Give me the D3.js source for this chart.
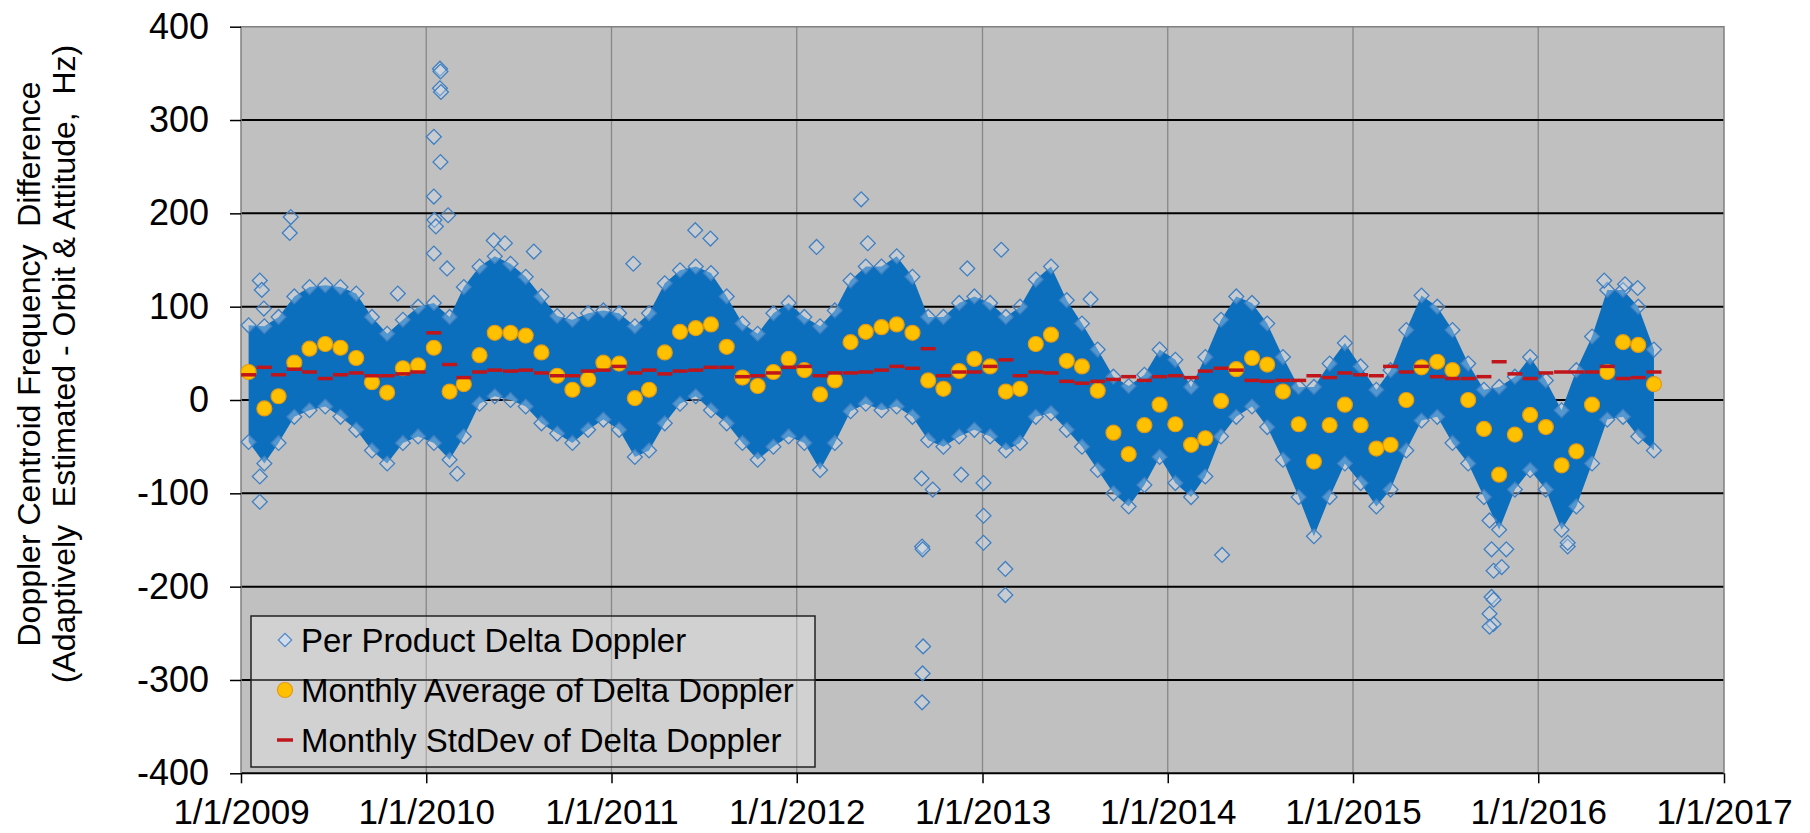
<!DOCTYPE html>
<html>
<head>
<meta charset="utf-8">
<script src="https://cdn.jsdelivr.net/npm/d3@7"></script>
<style>
  body { margin: 0; background: #fff; }
  text { font-family: Arial, "Liberation Sans", sans-serif; fill: #000; }
</style>
</head>
<body>
<svg id="chart" width="1810" height="833"></svg>
<script>
// monthly values, index 0 = Jan 2009 ... 91 = Aug 2016
const monthlyAvg = [30, -9, 4, 40, 55, 60, 56, 45, 19, 8, 34, 37,
  56, 9, 17, 48, 72, 72, 69, 51, 26, 11, 22, 40,
  39, 2, 11, 51, 73, 77, 81, 57, 24, 15, 30, 44,
  32, 6, 21, 62, 73, 78, 81, 72, 21, 12, 31, 44,
  36, 9, 12, 60, 70, 42, 36, 10, -35, -58, -27, -5,
  -26, -48, -41, -1, 33, 45, 38, 9, -26, -66, -27, -5,
  -27, -52, -48, 0, 35, 41, 32, 0, -31, -80, -37, -16,
  -29, -70, -55, -5, 30, 62, 59, 17];

const monthlyStd = [27, 35, 27, 33, 30, 23, 27, 29, 26, 26, 28, 30,
  72, 38, 24, 30, 32, 31, 32, 29, 26, 26, 31, 32,
  36, 29, 32, 28, 31, 32, 35, 35, 25, 26, 29, 35,
  36, 26, 29, 29, 30, 32, 36, 34, 55, 26, 30, 30,
  36, 43, 26, 30, 29, 20, 18, 20, 22, 25, 21, 25,
  26, 24, 31, 34, 32, 21, 20, 21, 21, 26, 24, 29,
  27, 26, 36, 30, 36, 25, 23, 23, 25, 41, 28, 23,
  29, 30, 30, 30, 36, 23, 24, 30];

// edges of the dense cloud of per-product points, per month
const bandUpper = [80, 79, 89, 111, 121, 123, 121, 114, 89, 71, 86, 100,
  104, 89, 121, 143, 154, 146, 132, 111, 90, 86, 93, 96,
  93, 79, 93, 125, 139, 143, 136, 111, 82, 71, 93, 104,
  89, 79, 96, 128, 143, 143, 154, 132, 89, 89, 104, 111,
  104, 89, 100, 129, 143, 107, 82, 54, 25, 15, 27, 54,
  43, 14, 46, 86, 111, 104, 82, 46, 14, 14, 39, 61,
  36, 11, 32, 75, 112, 100, 75, 39, 11, 14, 25, 46,
  21, -11, 32, 68, 118, 118, 100, 54];

const bandLower = [-45, -68, -46, -18, -11, -7, -18, -32, -54, -68, -46, -39,
  -46, -64, -39, -4, 4, 0, -7, -25, -36, -46, -32, -21,
  -32, -61, -54, -25, -4, 4, -11, -25, -46, -64, -50, -39,
  -46, -75, -46, -12, -4, -11, -7, -18, -43, -50, -39, -32,
  -39, -54, -46, -18, -14, -32, -50, -75, -100, -114, -91, -61,
  -89, -104, -82, -39, -18, -7, -29, -64, -104, -146, -104, -68,
  -89, -114, -96, -54, -22, -18, -46, -68, -104, -139, -96, -75,
  -96, -139, -114, -68, -21, -18, -39, -54];

// isolated per-product points outside the dense cloud
const outliers = [
  ['2009-02-07', 128], ['2009-02-11', 118], ['2009-02-15', 98],
  ['2009-04-09', 196], ['2009-04-07', 179], ['2009-02-07', -82], ['2009-02-07', -109],
  ['2009-11-06', 114], ['2010-01-16', 282], ['2010-01-28', 355], ['2010-01-29', 352],
  ['2010-01-28', 334], ['2010-01-30', 330], ['2010-01-29', 255], ['2010-01-16', 218],
  ['2010-01-17', 193], ['2010-01-20', 186], ['2010-02-13', 198], ['2010-01-16', 157],
  ['2010-02-11', 141], ['2010-05-14', 171], ['2010-06-05', 168], ['2010-08-01', 159],
  ['2010-03-03', -79], ['2011-02-13', 146], ['2011-06-15', 182], ['2011-07-15', 173],
  ['2012-02-09', 164], ['2012-05-07', 215], ['2012-05-20', 168], ['2012-12-02', 141],
  ['2013-02-07', 161], ['2013-08-02', 108],
  ['2012-09-04', -157], ['2012-09-05', -160], ['2012-09-06', -264], ['2012-09-05', -293],
  ['2012-09-04', -324], ['2012-09-03', -84], ['2012-09-25', -96], ['2012-11-20', -80],
  ['2013-01-03', -89], ['2013-01-03', -124], ['2013-01-03', -153],
  ['2013-02-15', -181], ['2013-02-15', -209], ['2014-04-18', -166],
  ['2015-09-27', -129], ['2015-10-01', -160], ['2015-10-30', -160], ['2015-10-05', -183],
  ['2015-10-21', -179], ['2015-10-01', -211], ['2015-10-05', -214], ['2015-09-27', -229],
  ['2015-10-05', -240], ['2015-09-27', -243], ['2016-02-28', -157], ['2016-02-28', -153],
  ['2016-05-10', 128], ['2016-06-20', 124], ['2016-07-15', 120]
];

const yTicks = [400, 300, 200, 100, 0, -100, -200, -300, -400];
const xTickYears = [2009, 2010, 2011, 2012, 2013, 2014, 2015, 2016, 2017];
const legendLabels = ['Per Product Delta Doppler', 'Monthly Average of Delta Doppler', 'Monthly StdDev of Delta Doppler'];
const titleLines = ['Doppler Centroid Frequency  Difference', '(Adaptively  Estimated - Orbit & Attitude,  Hz)'];

const svg = d3.select('#chart');
const plot = { left: 241, right: 1724, top: 26.7, bottom: 773.3 };

const x = d3.scaleTime()
  .domain([new Date(2009, 0, 1), new Date(2017, 0, 1)])
  .range([plot.left, plot.right]);
const y = d3.scaleLinear()
  .domain([-400, 400])
  .range([plot.bottom, plot.top]);

const monthDate = i => new Date(2009, i, 16);
const months = monthlyAvg.map((v, i) => i);

// background
svg.append('rect')
  .attr('x', plot.left).attr('y', plot.top)
  .attr('width', plot.right - plot.left).attr('height', plot.bottom - plot.top)
  .attr('fill', '#c0c0c0');

// vertical grid
svg.append('g').selectAll('line')
  .data(xTickYears.slice(1, -1))
  .join('line')
  .attr('x1', d => x(new Date(d, 0, 1))).attr('x2', d => x(new Date(d, 0, 1)))
  .attr('y1', plot.top).attr('y2', plot.bottom)
  .attr('stroke', '#878787').attr('stroke-width', 1.3);

// horizontal grid
svg.append('g').selectAll('line')
  .data(yTicks.filter(d => d < 400))
  .join('line')
  .attr('x1', plot.left).attr('x2', plot.right)
  .attr('y1', d => y(d)).attr('y2', d => y(d))
  .attr('stroke', '#000').attr('stroke-width', 2);

// frame top / right / left
svg.append('path')
  .attr('d', `M${plot.left},${plot.bottom}V${plot.top}H${plot.right}V${plot.bottom}`)
  .attr('fill', 'none').attr('stroke', '#808080').attr('stroke-width', 1.5);

// dense cloud of per-product points
const area = d3.area()
  .x(i => x(monthDate(i)))
  .y0(i => y(bandLower[i]))
  .y1(i => y(bandUpper[i]));

svg.append('path')
  .datum(months)
  .attr('d', area)
  .attr('fill', '#0b6fbe');

const diamond = d3.symbol().type(d3.symbolSquare).size(110);
const diamondStyle = sel => sel
  .attr('d', diamond)
  .attr('fill', 'rgba(214,226,240,0.35)')
  .attr('stroke', '#3f7fc1')
  .attr('stroke-width', 1.3);

const edgePts = months.map(i => [monthDate(i), bandUpper[i]])
  .concat(months.map(i => [monthDate(i), bandLower[i]]));

svg.append('g').selectAll('path')
  .data(edgePts.concat(outliers.map(d => [new Date(d[0]), d[1]])))
  .join('path')
  .attr('transform', d => `translate(${x(d[0])},${y(d[1])}) rotate(45)`)
  .call(diamondStyle);

// monthly averages
svg.append('g').selectAll('circle')
  .data(months)
  .join('circle')
  .attr('cx', i => x(monthDate(i)))
  .attr('cy', i => y(monthlyAvg[i]))
  .attr('r', 7.5)
  .attr('fill', '#ffc000')
  .attr('stroke', '#e39a12')
  .attr('stroke-width', 1.2);

// monthly std dev dashes
svg.append('g').selectAll('line')
  .data(months)
  .join('line')
  .attr('x1', i => x(monthDate(i)) - 7.5)
  .attr('x2', i => x(monthDate(i)) + 7.5)
  .attr('y1', i => y(monthlyStd[i]))
  .attr('y2', i => y(monthlyStd[i]))
  .attr('stroke', '#c0151b')
  .attr('stroke-width', 3.5);

// axes
const yAxis = svg.append('g')
  .attr('transform', `translate(${plot.left},0)`)
  .call(d3.axisLeft(y).tickValues(yTicks).tickSize(11).tickPadding(21).tickFormat(d => String(d)));
yAxis.select('.domain').remove();
yAxis.selectAll('line').attr('stroke', '#000').attr('stroke-width', 1.5);
yAxis.selectAll('text').style('font-size', '36px').attr('fill', '#000');

const xAxis = svg.append('g')
  .attr('transform', `translate(0,${plot.bottom})`)
  .call(d3.axisBottom(x)
    .tickValues(xTickYears.map(yr => new Date(yr, 0, 1)))
    .tickSize(10).tickPadding(16)
    .tickFormat(d => `1/1/${d.getFullYear()}`));
xAxis.select('.domain').remove();
xAxis.selectAll('line').attr('stroke', '#000').attr('stroke-width', 1.5);
xAxis.selectAll('text').style('font-size', '35px').attr('fill', '#000');

// y title
svg.append('g').selectAll('text')
  .data(titleLines)
  .join('text')
  .attr('transform', (d, i) => `translate(${40 + i * 35},364) rotate(-90)`)
  .attr('text-anchor', 'middle')
  .style('font-size', '32px')
  .style('white-space', 'pre')
  .text(d => d);

// legend
const lg = svg.append('g');
lg.append('rect')
  .attr('x', 251).attr('y', 616).attr('width', 564).attr('height', 151)
  .attr('fill', 'rgba(255,255,255,0.28)')
  .attr('stroke', '#222').attr('stroke-width', 1.5);

const rows = lg.selectAll('g.row')
  .data(legendLabels)
  .join('g')
  .attr('class', 'row')
  .attr('transform', (d, i) => `translate(285,${640 + i * 50})`);

rows.append('text')
  .attr('x', 16).attr('y', 12)
  .style('font-size', '33px')
  .text(d => d);

rows.filter((d, i) => i === 0).append('path')
  .attr('d', d3.symbol().type(d3.symbolSquare).size(90))
  .attr('transform', 'rotate(45)')
  .attr('fill', '#d0dcea').attr('stroke', '#4f86c6').attr('stroke-width', 1.2);
rows.filter((d, i) => i === 1).append('circle')
  .attr('r', 7.5).attr('fill', '#ffc000').attr('stroke', '#e39a12').attr('stroke-width', 1.2);
rows.filter((d, i) => i === 2).append('line')
  .attr('x1', -8).attr('x2', 8)
  .attr('stroke', '#c0151b').attr('stroke-width', 3.5);
</script>
</body>
</html>
